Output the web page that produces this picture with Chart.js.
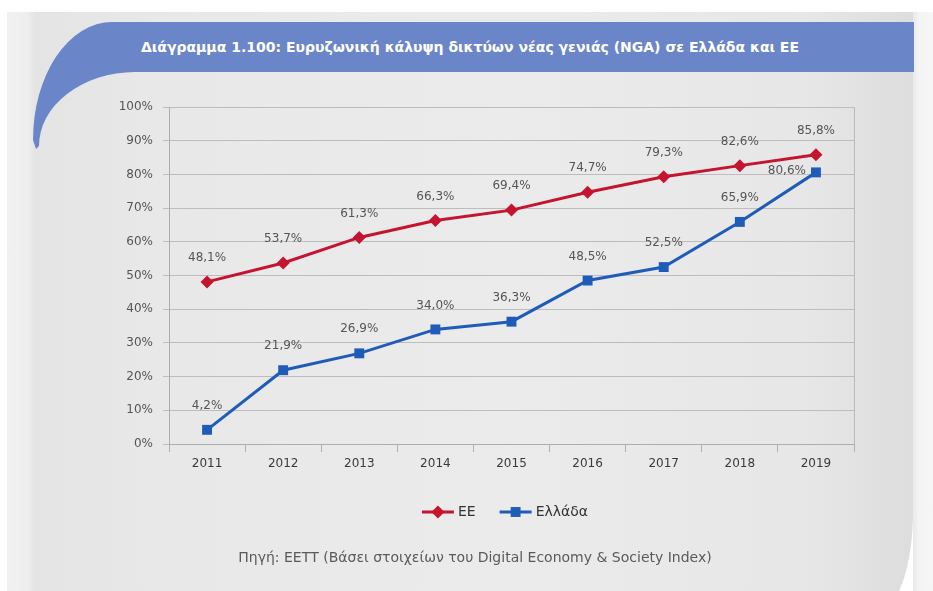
<!DOCTYPE html>
<html lang="el">
<head>
<meta charset="utf-8">
<title>Ευρυζωνική κάλυψη NGA</title>
<script src="https://cdn.jsdelivr.net/npm/chart.js@4.4.1/dist/chart.umd.min.js"></script>
<style>
  html, body { margin: 0; padding: 0; background: #ffffff; }
  #wrap { position: relative; width: 933px; height: 591px; overflow: hidden; background: #ffffff; }
  #edge { position: absolute; left: 913px; top: 12px; width: 20px; height: 579px;
          background: linear-gradient(to right, #e9e9e9, #f4f4f4 6px, #f6f6f6); }
  #panel { position: absolute; left: 7px; top: 12px; width: 906px; height: 600px;
           border-bottom-right-radius: 36px 100px;
           background: linear-gradient(to right, #f1f1f1 0px, #eeeeee 20px, #e4e4e4 28px,
                       #e8e8e8 140px, #ebebeb 55%, #e7e7e7 88%, #dddddd 100%); }
  #band { position: absolute; left: 0; top: 0; }
  #title { position: absolute; left: 0; width: 940px; top: 22px; height: 50px;
           font: bold 14px "DejaVu Sans", sans-serif; line-height: 50px;
           text-align: center; color: #ffffff; }
  #source { position: absolute; left: 0; width: 950px; top: 548px; text-align: center;
            color: #5a5a5a; font: 14px "DejaVu Sans", sans-serif; line-height: 18px; }
  #chart { position: absolute; left: 0; top: 0; }
</style>
</head>
<body>
<div id="wrap">
  <div id="edge"></div>
  <div id="panel"></div>
  <svg id="band" width="933" height="200">
    <path d="M914 22 L112 22 A79 118 0 0 0 33 140 L36 149 L39 146 A97 74 0 0 1 135 72 L914 72 Z"
          fill="#6b86c8"/>
  </svg>
  <div id="title">Διάγραμμα 1.100: Ευρυζωνική κάλυψη δικτύων νέας γενιάς (NGA) σε Ελλάδα και ΕΕ</div>
  <canvas id="chart" width="933" height="591"></canvas>
  <div id="source">Πηγή: ΕΕΤΤ (Βάσει στοιχείων του Digital Economy &amp; Society Index)</div>
</div>
<script>
// Years on the category axis
const years = ['2011', '2012', '2013', '2014', '2015', '2016', '2017', '2018', '2019'];
// NGA coverage, % of households
const euValues = [48.1, 53.7, 61.3, 66.3, 69.4, 74.7, 79.3, 82.6, 85.8];
const greeceValues = [4.2, 21.9, 26.9, 34.0, 36.3, 48.5, 52.5, 65.9, 80.6];
// Value-axis ticks
const yTicks = [0, 10, 20, 30, 40, 50, 60, 70, 80, 90, 100];

const seriesNames = ['ΕΕ', 'Ελλάδα'];
const RED = '#c4142f';
const BLUE = '#1f5cb8';

const fmtPct = v => v.toFixed(1).replace('.', ',') + '%';

// Value labels above each marker; a label that would sit on the other
// series' marker is moved to the left of its own point instead.
const valueLabels = {
  id: 'valueLabels',
  afterDatasetsDraw(chart) {
    const ctx = chart.ctx;
    ctx.save();
    ctx.font = '12px "DejaVu Sans", sans-serif';
    ctx.fillStyle = '#555555';
    ctx.textBaseline = 'middle';
    chart.data.datasets.forEach((ds, di) => {
      const meta = chart.getDatasetMeta(di);
      meta.data.forEach((pt, i) => {
        const txt = fmtPct(ds.data[i]);
        let crowded = false;
        chart.data.datasets.forEach((other, oi) => {
          if (oi === di) return;
          const op = chart.getDatasetMeta(oi).data[i];
          if (op.y < pt.y && pt.y - op.y < 30) crowded = true;
        });
        if (crowded) {
          ctx.textAlign = 'right';
          ctx.fillText(txt, pt.x - 10, pt.y - 2);
        } else {
          ctx.textAlign = 'center';
          ctx.fillText(txt, pt.x, pt.y - 24);
        }
      });
    });
    ctx.restore();
  }
};

// Right edge of the plot frame
const plotFrame = {
  id: 'plotFrame',
  beforeDatasetsDraw(chart) {
    const a = chart.chartArea, ctx = chart.ctx;
    ctx.save();
    ctx.strokeStyle = '#b9b9b9';
    ctx.lineWidth = 1;
    ctx.beginPath();
    ctx.moveTo(Math.round(a.right) + 0.5, a.top);
    ctx.lineTo(Math.round(a.right) + 0.5, a.bottom);
    ctx.stroke();
    ctx.restore();
  }
};

// Legend: line segment with the series marker, then the series name
const lineLegend = {
  id: 'lineLegend',
  afterDraw(chart) {
    const ctx = chart.ctx;
    const y = 512, seg = 32, gap = 4, between = 24;
    ctx.save();
    ctx.font = '14px "DejaVu Sans", sans-serif';
    const items = chart.data.datasets.map(ds => ({ ds, w: seg + gap + ctx.measureText(ds.label).width }));
    const total = items.reduce((s, it) => s + it.w, 0) + between * (items.length - 1);
    let x = 505 - total / 2;
    items.forEach(({ ds, w }) => {
      ctx.strokeStyle = ds.borderColor;
      ctx.lineWidth = ds.borderWidth;
      ctx.beginPath();
      ctx.moveTo(x, y);
      ctx.lineTo(x + seg, y);
      ctx.stroke();
      ctx.fillStyle = ds.pointBackgroundColor;
      Chart.helpers.drawPoint(ctx, {
        pointStyle: ds.pointStyle, radius: ds.pointRadius, borderWidth: 0, rotation: 0
      }, x + seg / 2, y);
      ctx.fillStyle = '#333333';
      ctx.textAlign = 'left';
      ctx.textBaseline = 'middle';
      ctx.fillText(ds.label, x + seg + gap, y);
      x += w + between;
    });
    ctx.restore();
  }
};

new Chart(document.getElementById('chart'), {
  type: 'line',
  data: {
    labels: years,
    datasets: [
      {
        label: seriesNames[0], data: euValues,
        borderColor: RED, backgroundColor: RED, pointBackgroundColor: RED, pointBorderColor: RED,
        borderWidth: 3, pointStyle: 'rectRot', pointRadius: 6.5, pointBorderWidth: 0,
        tension: 0, fill: false
      },
      {
        label: seriesNames[1], data: greeceValues,
        borderColor: BLUE, backgroundColor: BLUE, pointBackgroundColor: BLUE, pointBorderColor: BLUE,
        borderWidth: 3, pointStyle: 'rect', pointRadius: 7, pointBorderWidth: 0,
        tension: 0, fill: false
      }
    ]
  },
  options: {
    responsive: false,
    animation: false,
    devicePixelRatio: 1,
    layout: { padding: { top: 107, right: 79, left: 0, bottom: 0 } },
    plugins: {
      legend: { display: false },
      title: { display: false },
      tooltip: { enabled: false }
    },
    scales: {
      x: {
        offset: true,
        grid: { offset: true, drawOnChartArea: false, drawTicks: true, tickLength: 8, color: '#b0b0b0' },
        border: { color: '#adadad' },
        ticks: { color: '#3a3a3a', font: { family: 'DejaVu Sans', size: 12 }, padding: 5 },
        afterFit: s => { s.height = 147; }
      },
      y: {
        min: 0, max: 100,
        afterBuildTicks: s => { s.ticks = yTicks.map(v => ({ value: v })); },
        grid: { color: '#bdbdbd', tickLength: 6, drawTicks: true },
        border: { color: '#adadad' },
        ticks: { color: '#555555', font: { family: 'DejaVu Sans', size: 12 }, padding: 10,
                 callback: v => v + '%' },
        afterFit: s => { s.width = 169; }
      }
    }
  },
  plugins: [plotFrame, valueLabels, lineLegend]
});
</script>
</body>
</html>
